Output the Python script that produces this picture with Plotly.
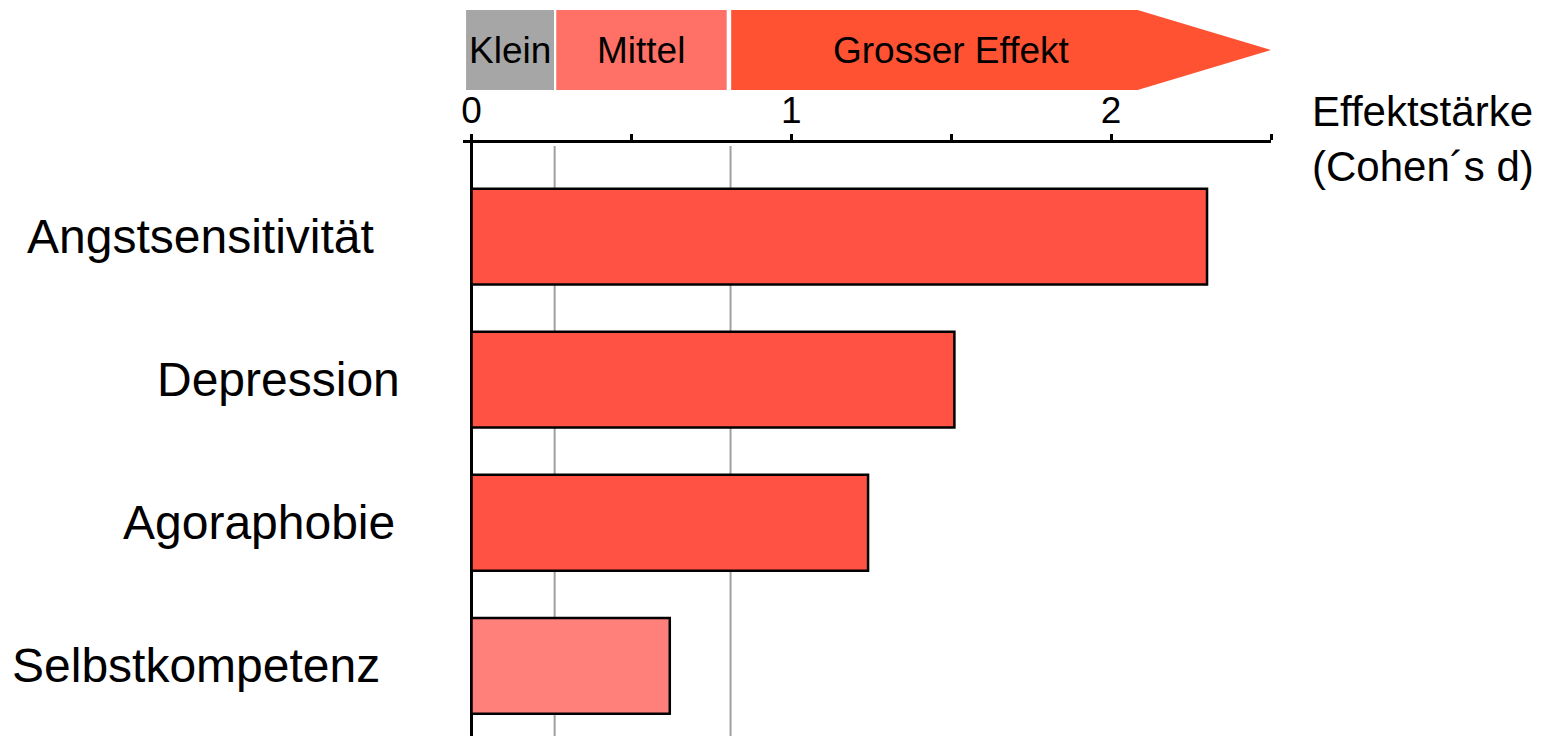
import plotly.graph_objects as go

# ---- data ----
categories = ["Angstsensitivität", "Depression", "Agoraphobie", "Selbstkompetenz"]
effect_sizes = [2.30, 1.51, 1.24, 0.62]
bar_colors = ["#FF5245", "#FF5245", "#FF5245", "#FF7F7A"]

band_labels = ["Klein", "Mittel", "Grosser Effekt"]
band_start = [-0.017, 0.265, 0.812]
band_end = [0.258, 0.798, 2.5]
band_label_x = [0.12, 0.53, 1.5]
band_colors = ["#A6A6A6", "#FF7066", "#FF5233"]
arrow_neck = 2.083

guide_lines = [0.26, 0.81]

tick_vals = [0, 0.5, 1, 1.5, 2, 2.5]
tick_text = ["0", "", "1", "", "2", ""]

axis_title = "Effektstärke<br>(Cohen´s d)"

# ---- layout constants (screen pixels; page body has an 8px margin) ----
OFF = 8
W, H = 1550 - OFF, 736 - OFF
M_L = 463 - OFF
M_R = W - (1271.5 - OFF)
M_T = 143 - OFF
M_B = 0
plot_h = H - M_T - M_B
label_right_px = [376, 402, 397, 382]
FONT = "Liberation Sans, Arial, sans-serif"


def py(px):
    """screen pixel y (from top) -> paper y"""
    return (H - M_B - (px - OFF)) / plot_h


band_top, band_bot, band_mid = py(10), py(90), py(50)

fig = go.Figure()
fig.add_trace(go.Bar(
    y=categories, x=effect_sizes, base=0, orientation="h",
    width=0.67,
    marker=dict(color=bar_colors, line=dict(color="black", width=2.5)),
    hoverinfo="skip", showlegend=False,
))

shapes = []
for g in guide_lines:
    shapes.append(dict(type="line", xref="x", yref="paper", x0=g, x1=g,
                       y0=0, y1=0.995, line=dict(color="#A0A0A0", width=2),
                       layer="below"))
for i, lab in enumerate(band_labels):
    x0, x1 = band_start[i], band_end[i]
    if i == len(band_labels) - 1:
        path = (f"M {x0},{band_bot} L {arrow_neck},{band_bot} L {x1},{band_mid} "
                f"L {arrow_neck},{band_top} L {x0},{band_top} Z")
        shapes.append(dict(type="path", xref="x", yref="paper", path=path,
                           fillcolor=band_colors[i], line=dict(width=0)))
    else:
        shapes.append(dict(type="rect", xref="x", yref="paper", x0=x0, x1=x1,
                           y0=band_bot, y1=band_top, fillcolor=band_colors[i],
                           line=dict(width=0)))

annotations = []
for i, lab in enumerate(band_labels):
    annotations.append(dict(text=lab, xref="x", yref="paper", x=band_label_x[i],
                            y=band_mid, xanchor="center", yanchor="middle",
                            showarrow=False, font=dict(size=37, color="black", family=FONT)))
for i, cat in enumerate(categories):
    annotations.append(dict(text=cat, xref="paper", yref="y", x=0, y=cat,
                            xanchor="right", yanchor="middle",
                            xshift=(label_right_px[i] - OFF) - M_L,
                            showarrow=False, font=dict(size=48, color="black", family=FONT)))
annotations.append(dict(text=axis_title, xref="paper", yref="paper", x=1,
                        xshift=(1310 - OFF) - (W - M_R), y=py(139), xanchor="left",
                        yanchor="middle", align="left", showarrow=False,
                        font=dict(size=42, color="black", family=FONT)))

fig.update_layout(
    width=W, height=H,
    margin=dict(l=M_L, r=M_R, t=M_T, b=M_B, pad=0),
    paper_bgcolor="white", plot_bgcolor="white",
    font=dict(family=FONT, color="black"),
    shapes=shapes, annotations=annotations,
    xaxis=dict(
        side="top", range=[-0.0266, 2.5], autorange=False,
        tickmode="array", tickvals=tick_vals, ticktext=tick_text,
        ticks="outside", ticklen=6, tickwidth=2.5, tickcolor="black",
        tickfont=dict(size=37, color="black", family=FONT),
        ticklabelstandoff=-4,
        showline=True, linecolor="black", linewidth=3,
        showgrid=False,
        zeroline=True, zerolinecolor="black", zerolinewidth=3,
        fixedrange=True,
    ),
    yaxis=dict(
        type="category", categoryorder="array", categoryarray=categories,
        range=[3.49, -0.654], autorange=False,
        showticklabels=False, ticks="", showline=False, showgrid=False,
        zeroline=False, fixedrange=True,
    ),
)

fig.write_html("out.html", config={"displayModeBar": False})
